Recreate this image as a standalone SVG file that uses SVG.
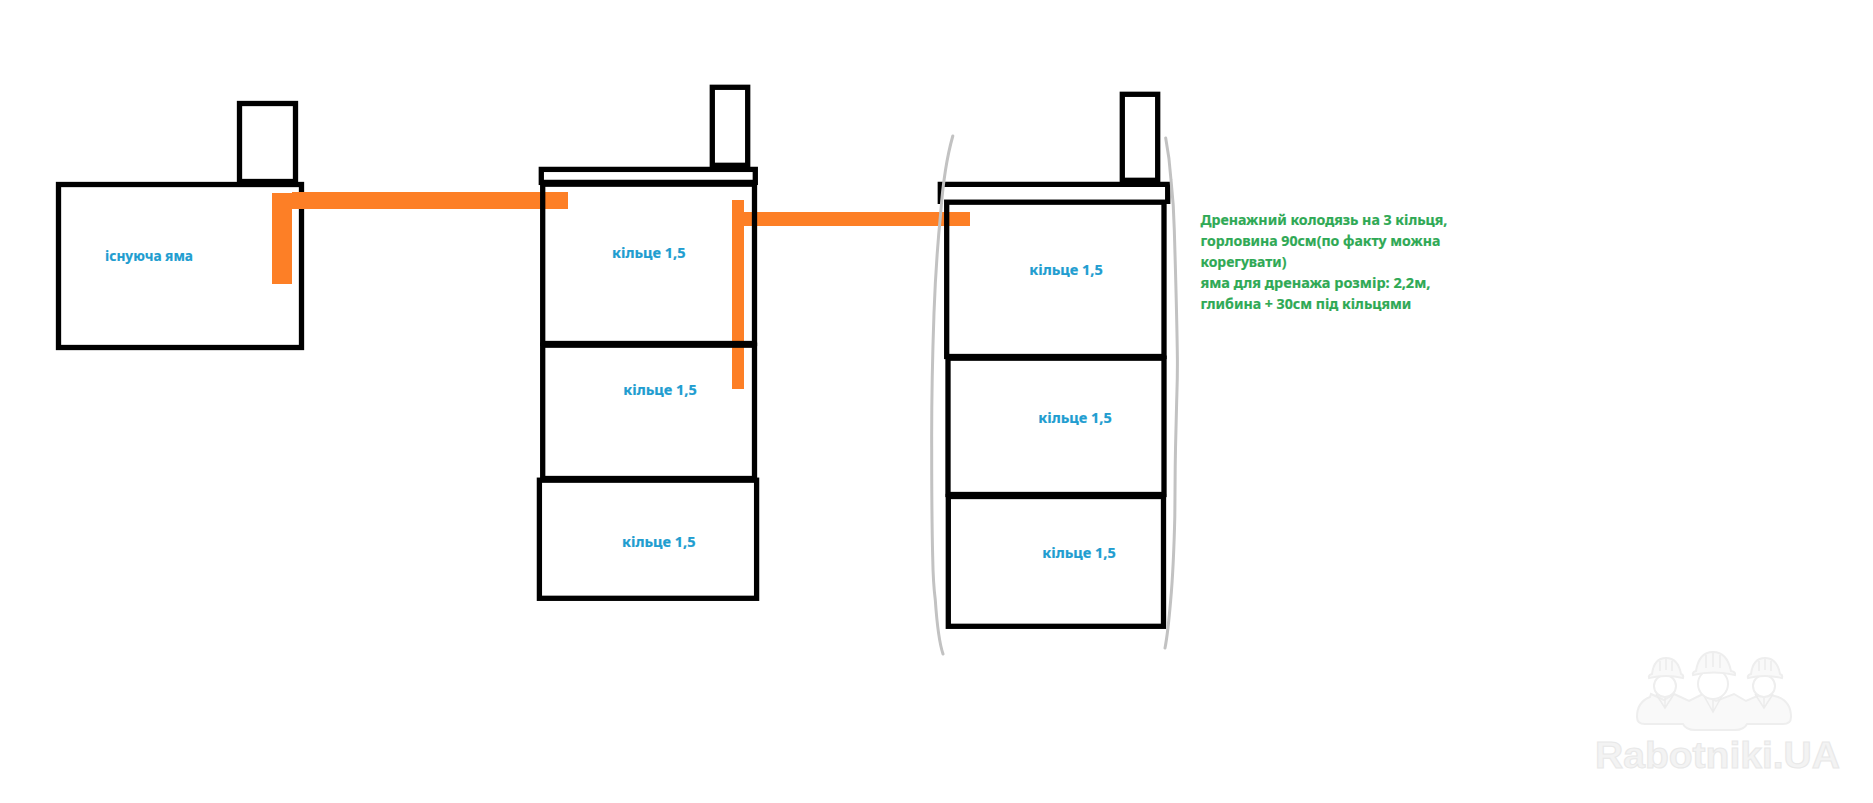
<svg xmlns="http://www.w3.org/2000/svg" width="1873" height="803" viewBox="0 0 1873 803">
<style>
.w{fill:none;stroke:#000;stroke-width:5.3;stroke-linejoin:miter}
.p{fill:#fd7f26}
.a{fill:none;stroke:#c2c2c2;stroke-width:3;stroke-linecap:round}
text{font-family:"Noto Sans","Liberation Sans",sans-serif;font-weight:700;font-size:15px}
.b{fill:#219dd0;stroke:#219dd0;stroke-width:.2}
.g{fill:#2fa955;stroke:#2fa955;stroke-width:.2}
.m{fill:#f9f9f9;stroke:#eeeeee;stroke-width:2}
.f{fill:#fff;stroke:#eeeeee;stroke-width:2}
.l{fill:none;stroke:#ececec;stroke-width:1.5}
.mt{fill:#f3f3f3;stroke:#e8e8e8;stroke-width:1;font-family:"Liberation Sans",Arial,sans-serif;font-size:36px}
</style>
<rect width="1873" height="803" fill="#fff"/>
<g id="watermark">
<path class="m" d="M1650 697q-13 5-13 20q0 7 8 7h38q3 6 12 6h40q9 0 12-6h36q8 0 8-7q0-15-13-20l-14-4l-18 8l-12-7l-18 7l-13-7l-14 7l-15-7l-10 6l-13-6z"/>
<path class="l" d="M1656 694l9 14l9-14M1704 696l9 16l9-16M1755 694l9 14l9-14M1665 708v-10M1713 712v-12M1764 708v-10"/>
<circle class="f" cx="1665" cy="686" r="11"/>
<circle class="f" cx="1713" cy="684" r="15"/>
<circle class="f" cx="1764" cy="686" r="11"/>
<path class="m" d="M1649 678q-1-3 3-4q2-16 14-16q12 0 15 16q3 1 2 4q-17-4-34 0z"/>
<path class="m" d="M1693 675q-1-3 3-4q3-19 17-19q14 0 18 19q5 1 4 4q-21-5-42 0z"/>
<path class="m" d="M1748 678q-1-3 3-4q2-16 14-16q12 0 15 16q3 1 2 4q-17-4-34 0z"/>
<path class="l" d="M1660 661v10M1666 659v11M1672 661v10M1706 655v13M1713 653v14M1720 655v13M1759 661v10M1765 659v11M1771 661v10"/>
<text class="mt" x="1595" y="768" textLength="245" lengthAdjust="spacingAndGlyphs">Rabotniki.UA</text>
</g>
<g id="pit">
<rect class="w" x="58.5" y="184.5" width="243" height="163"/>
<rect class="w" x="239.5" y="103.5" width="56" height="78"/>
<text class="b" x="105" y="261" textLength="88" lengthAdjust="spacingAndGlyphs">існуюча яма</text>
</g>
<g id="connectors">
<rect class="p" x="272" y="193" width="20" height="91"/>
<rect class="p" x="292" y="192" width="276" height="17"/>
<rect class="p" x="732" y="200" width="12" height="189"/>
<rect class="p" x="744" y="212" width="226" height="14"/>
</g>
<g id="well-middle">
<rect class="w" x="712.3" y="87.3" width="35.4" height="78"/>
<rect class="w" x="541.3" y="169.4" width="214" height="13"/>
<rect class="w" x="542.7" y="184.2" width="211.8" height="159.3"/>
<rect class="w" x="542.7" y="345.2" width="211.8" height="133.3"/>
<rect class="w" x="539.4" y="480.2" width="217.2" height="118.1"/>
<text class="b" x="612" y="258" textLength="73.5" lengthAdjust="spacingAndGlyphs">кільце 1,5</text>
<text class="b" x="623.3" y="395" textLength="73.5" lengthAdjust="spacingAndGlyphs">кільце 1,5</text>
<text class="b" x="622" y="547" textLength="73.5" lengthAdjust="spacingAndGlyphs">кільце 1,5</text>
</g>
<g id="well-drainage">
<rect class="w" x="1122.3" y="94.3" width="35.4" height="86"/>
<path class="w" d="M940.3 204V184.3H1167.7V204"/>
<rect class="w" x="946.7" y="202.2" width="217.3" height="154.3"/>
<rect class="w" x="948" y="358.2" width="216" height="136.3"/>
<rect class="w" x="948.3" y="496.5" width="215.2" height="129.8"/>
<text class="b" x="1029.3" y="275" textLength="73.5" lengthAdjust="spacingAndGlyphs">кільце 1,5</text>
<text class="b" x="1038.3" y="422.7" textLength="73.5" lengthAdjust="spacingAndGlyphs">кільце 1,5</text>
<text class="b" x="1042.3" y="557.7" textLength="73.5" lengthAdjust="spacingAndGlyphs">кільце 1,5</text>
</g>
<g id="pit-outline">
<path class="a" d="M952.8 136C946 160 942 195 940.7 213C937 250 935 285 934 313C932 370 931.5 410 931.7 450C931.7 500 932 530 932.7 557C933 575 934 590 935.3 600C937 625 939 642 943 654"/>
<path class="a" d="M1165.7 138C1168 150 1170 165 1171 180C1173 198 1174 215 1174.3 230C1175.5 270 1177 320 1177.4 360C1177.5 380 1177 390 1176.7 400C1176 425 1175.5 445 1175.2 467C1175 485 1175 500 1174.8 517C1174 550 1172.5 580 1170.7 600C1169 620 1167 638 1165 648"/>
</g>
<g id="note">
<text class="g" x="1200.4" y="225.3" textLength="247" lengthAdjust="spacingAndGlyphs">Дренажний колодязь на 3 кільця,</text>
<text class="g" x="1200.4" y="246.3" textLength="240" lengthAdjust="spacingAndGlyphs">горловина 90см(по факту можна</text>
<text class="g" x="1200.4" y="267.3" textLength="86" lengthAdjust="spacingAndGlyphs">корегувати)</text>
<text class="g" x="1200.4" y="288.3" textLength="230" lengthAdjust="spacingAndGlyphs">яма для дренажа розмір: 2,2м,</text>
<text class="g" x="1200.4" y="309.3" textLength="211" lengthAdjust="spacingAndGlyphs">глибина + 30см під кільцями</text>
</g>
</svg>
